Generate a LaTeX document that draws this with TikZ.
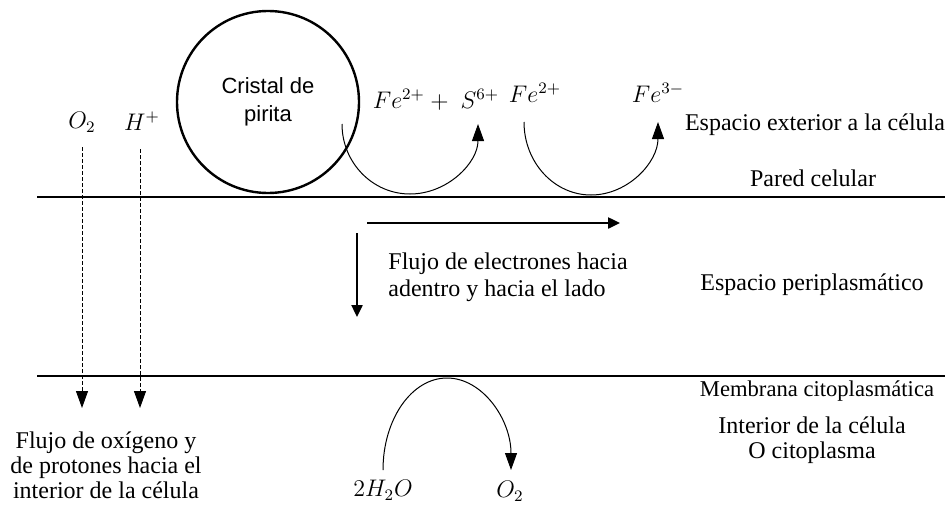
\documentclass[tikz,border=0pt,12pt]{standalone}
\usepackage{fontspec}
\setmainfont{Liberation Serif}
\setsansfont{Liberation Sans}
\usetikzlibrary{arrows.meta}

\begin{document}
\begin{tikzpicture}[x=.5pt,y=-.5pt]
\tikzset{
zona/.style={font=\rmfamily\fontsize{12}{12.5}\selectfont,align=center,inner sep=0pt},
chem/.style={font=\fontsize{12}{14}\selectfont,inner sep=0pt},
capa/.style={line width=.7pt},
giro/.style={line width=.5pt,-{Triangle[length=8.5pt,width=6pt]}},
flujo/.style={line width=1.2pt,-{Triangle[length=6pt,width=5.5pt]}},
paso/.style={line width=.5pt,dash pattern=on 2pt off 1pt,-{Triangle[length=8.5pt,width=6pt]}}
}
\useasboundingbox (0,0) rectangle (945,508);
\coordinate (pared) at (37,197);
\coordinate (memb) at (37,376);
\draw[capa] (pared) -- +(908,0);
\draw[capa] (memb) -- +(908,0);
\node[circle,draw,line width=1.2pt,minimum size=91pt,inner sep=0pt,
  font=\sffamily\fontsize{11}{14}\selectfont,align=center] (pirita) at (268,102) {Cristal de\\pirita};
\node[chem] (o2) at (82,122) {$O_2$};
\node[chem] (hp) at (142,121) {$H^+$};
\node[chem] (fes) at (436,100) {$Fe^{2+}+\;S^{6+}$};
\node[chem] (fe2) at (535,93) {$Fe^{2+}$};
\node[chem] (fe3) at (658,93) {$Fe^{3-}$};
\node[chem] (agua) at (383,490) {$2H_2O$};
\node[chem] (oxi) at (510,491) {$O_2$};
\foreach \x/\y/\t in {815/125/Espacio exterior a la célula,813/178/Pared celular,
  812/285/Espacio periplasmático}
  \node[zona] (z\y) at (\x,\y) {\t};
\node[zona,font=\rmfamily\fontsize{11.3}{12.5}\selectfont] (zmem) at (817,391) {Membrana citoplasmática};
\node[zona] (zint) at (812,440) {Interior de la célula\\O citoplasma};
\node[zona,anchor=west,align=left,font=\rmfamily\fontsize{12}{13.5}\selectfont] (elec) at (388,277)
  {Flujo de electrones hacia\\adentro y hacia el lado};
\node[zona] (prot) at (106,465) {Flujo de oxígeno y\\de protones hacia el\\interior de la célula};
\coordinate (g1) at (342,124);
\coordinate (g2) at (524,122);
\coordinate (g3) at (383,470);
\draw[giro] (g1) arc[start angle=180,end angle=0,x radius=68,y radius=70];
\draw[giro] (g2) arc[start angle=180,end angle=0,x radius=67,y radius=73];
\draw[giro] (g3) arc[start angle=180,end angle=360,x radius=64,y radius=92];
\coordinate (o2a) at (82,147);
\coordinate (o2b) at (82,408);
\coordinate (hpa) at (140,149);
\coordinate (hpb) at (140,408);
\draw[paso] (o2a) -- (o2b);
\draw[paso] (hpa) -- (hpb);
\coordinate (lado0) at (367,223);
\coordinate (lado1) at (620,223);
\coordinate (dentro0) at (357,233);
\coordinate (dentro1) at (357,317);
\draw[flujo] (lado0) -- (lado1);
\draw[flujo] (dentro0) -- (dentro1);
\end{tikzpicture}
\end{document}
